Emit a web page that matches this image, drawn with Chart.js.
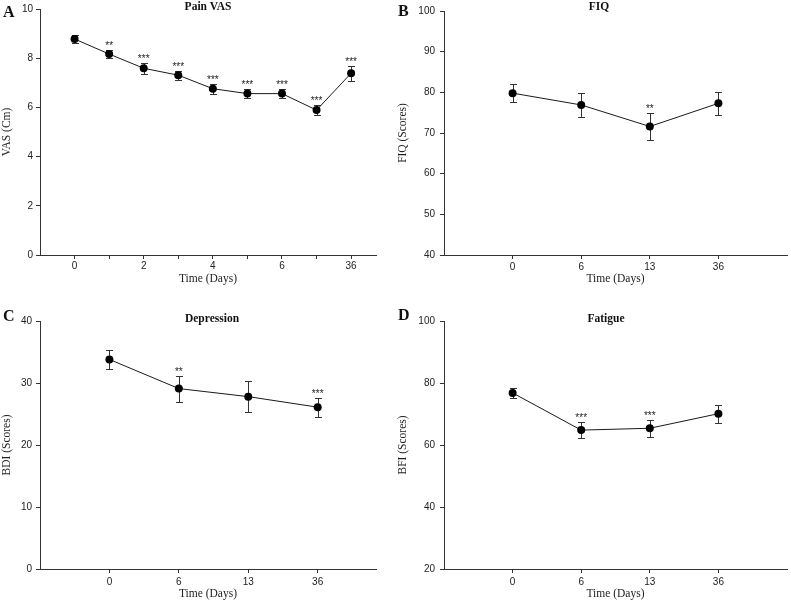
<!DOCTYPE html>
<html><head><meta charset="utf-8">
<script src="https://cdn.jsdelivr.net/npm/chart.js@4/dist/chart.umd.min.js"></script>
<style>
html,body{margin:0;padding:0;background:#fff;}
.wrap{position:relative;width:791px;height:601px;overflow:hidden;}
canvas{position:absolute;left:0;top:0;}
</style>
</head><body><div class="wrap">
<canvas id="cA" width="791" height="601" style="width:791px;height:601px"></canvas>
<canvas id="cB" width="791" height="601" style="width:791px;height:601px"></canvas>
<canvas id="cC" width="791" height="601" style="width:791px;height:601px"></canvas>
<canvas id="cD" width="791" height="601" style="width:791px;height:601px"></canvas>
</div>
<script>
// ---- Data ----
const vasDays = ['0','1','2','3','4','5','6','7','36'];
const vasTickLabels = ['0','','2','','4','','6','','36'];
const vasMean = [8.78, 8.17, 7.59, 7.31, 6.76, 6.56, 6.56, 5.89, 7.39];
const vasErr  = [0.18, 0.18, 0.22, 0.18, 0.20, 0.18, 0.18, 0.20, 0.30];
const vasSig  = ['', '**', '***', '***', '***', '***', '***', '***', '***'];

const scoreDays = ['0','6','13','36'];
const fiqMean = [79.8, 76.9, 71.6, 77.3];
const fiqErr  = [2.2, 2.85, 3.2, 2.8];
const fiqSig  = ['', '', '**', ''];

const bdiMean = [33.8, 29.1, 27.8, 26.1];
const bdiErr  = [1.5, 2.1, 2.5, 1.55];
const bdiSig  = ['', '**', '', '***'];

const bfiMean = [76.8, 64.8, 65.4, 70.1];
const bfiErr  = [1.7, 2.65, 2.7, 2.85];
const bfiSig  = ['', '***', '***', ''];

// ---- Drawing ----
const AX = '#333';
const TXT = '#222';
const tickFont = {family:'"Liberation Sans", Arial, sans-serif', size:10};
const titleFont = {family:'"Liberation Serif", "Times New Roman", serif', size:11.5};

function makePanel(id, cfg) {
  const deco = {
    id: 'deco_' + id,
    beforeDatasetsDraw(chart) {
      const ctx = chart.ctx, ds = chart.data.datasets[0];
      const xs = chart.scales.x, ys = chart.scales.y;
      ctx.save();
      ctx.strokeStyle = AX; ctx.lineWidth = 1;
      ds.data.forEach((p, i) => {
        const e = ds.errors[i];
        const x = Math.round(xs.getPixelForValue(p.x)) + 0.5;
        const yt = Math.round(ys.getPixelForValue(p.y + e)) + 0.5;
        const yb = Math.round(ys.getPixelForValue(p.y - e)) + 0.5;
        ctx.beginPath();
        ctx.moveTo(x, yt); ctx.lineTo(x, yb);
        ctx.moveTo(x - 3.5, yt); ctx.lineTo(x + 3.5, yt);
        ctx.moveTo(x - 3.5, yb); ctx.lineTo(x + 3.5, yb);
        ctx.stroke();
      });
      ctx.restore();
    },
    afterDatasetsDraw(chart) {
      const ctx = chart.ctx, ds = chart.data.datasets[0];
      const xs = chart.scales.x, ys = chart.scales.y;
      ctx.save();
      ctx.fillStyle = TXT;
      ctx.font = '10px "Liberation Sans", Arial, sans-serif';
      ctx.textAlign = 'center'; ctx.textBaseline = 'alphabetic';
      ds.data.forEach((p, i) => {
        const s = ds.sig[i];
        if (!s) return;
        const x = xs.getPixelForValue(p.x);
        const yt = ys.getPixelForValue(p.y + ds.errors[i]);
        ctx.fillText(s, x, yt - 1);
      });
      ctx.restore();
    },
    afterDraw(chart) {
      const ctx = chart.ctx;
      ctx.save();
      ctx.fillStyle = '#111';
      ctx.textBaseline = 'alphabetic';
      ctx.textAlign = 'left';
      ctx.font = 'bold 16px "Liberation Serif", "Times New Roman", serif';
      ctx.fillText(cfg.letter, cfg.letterX, cfg.letterY);
      ctx.textAlign = 'center';
      ctx.font = 'bold 11.5px "Liberation Serif", "Times New Roman", serif';
      ctx.fillText(cfg.title, cfg.titleX, cfg.titleY);
      ctx.restore();
    }
  };

  new Chart(document.getElementById(id), {
    type: 'line',
    data: {
      datasets: [{
        data: cfg.mean.map((v, i) => ({x: i, y: v})),
        errors: cfg.err,
        sig: cfg.sig,
        borderColor: '#1a1a1a',
        borderWidth: 1,
        pointRadius: 4,
        pointBackgroundColor: '#000',
        pointBorderWidth: 0,
        tension: 0,
        fill: false
      }]
    },
    options: {
      responsive: false,
      animation: false,
      events: [],
      layout: {padding: {left: cfg.padL, right: 791 - cfg.right, top: cfg.top, bottom: cfg.padB}},
      plugins: {legend: {display: false}, tooltip: {enabled: false}, title: {display: false}},
      scales: {
        x: {
          type: 'linear', min: -1, max: cfg.xmax,
          afterBuildTicks: s => { s.ticks = cfg.tickLabels.map((_, i) => ({value: i})); },
          afterFit: s => { s.height = cfg.xh; },
          ticks: {callback: v => (cfg.tickLabels[v] !== undefined ? cfg.tickLabels[v] : ''), autoSkip: false, maxRotation: 0, padding: cfg.xpad, font: tickFont, color: TXT},
          grid: {display: true, drawOnChartArea: false, drawTicks: true, tickLength: 4, color: AX},
          border: {display: true, color: AX, width: 1},
          title: {display: true, text: 'Time (Days)', font: titleFont, color: TXT, padding: 0}
        },
        y: {
          min: cfg.ymin, max: cfg.ymax,
          afterFit: s => { s.width = cfg.yw; },
          ticks: {stepSize: cfg.step, padding: cfg.ypad, font: tickFont, color: TXT},
          grid: {display: true, drawOnChartArea: false, drawTicks: true, tickLength: 4, color: AX},
          border: {display: true, color: AX, width: 1},
          title: {display: true, text: cfg.ytitle, font: titleFont, color: TXT, padding: 0}
        }
      }
    },
    plugins: [deco]
  });
}

makePanel('cA', {
  mean: vasMean, err: vasErr, sig: vasSig, tickLabels: vasTickLabels,
  letter: 'A', letterX: 3, letterY: 17, title: 'Pain VAS', titleX: 208, titleY: 10,
  padL: 0, yw: 40, right: 376, top: 7, padB: 315, xh: 31, xmax: 8.72, xpad: 1, ypad: 3,
  ymin: 0, ymax: 10, step: 2, ytitle: 'VAS (Cm)'
});
makePanel('cB', {
  mean: fiqMean, err: fiqErr, sig: fiqSig, tickLabels: scoreDays,
  letter: 'B', letterX: 398, letterY: 16, title: 'FIQ', titleX: 599, titleY: 10,
  padL: 396, yw: 48, right: 790, top: 7, padB: 315, xh: 31, xmax: 4, xpad: 2, ypad: 5,
  ymin: 40, ymax: 100, step: 10, ytitle: 'FIQ (Scores)'
});
makePanel('cC', {
  mean: bdiMean, err: bdiErr, sig: bdiSig, tickLabels: scoreDays,
  letter: 'C', letterX: 3, letterY: 320.5, title: 'Depression', titleX: 212, titleY: 322,
  padL: 0, yw: 40, right: 376, top: 321, padB: 0, xh: 32, xmax: 3.84, xpad: 3, ypad: 4,
  ymin: 0, ymax: 40, step: 10, ytitle: 'BDI (Scores)'
});
makePanel('cD', {
  mean: bfiMean, err: bfiErr, sig: bfiSig, tickLabels: scoreDays,
  letter: 'D', letterX: 398, letterY: 320, title: 'Fatigue', titleX: 606, titleY: 322,
  padL: 396, yw: 48, right: 790, top: 321, padB: 0, xh: 32, xmax: 4, xpad: 3, ypad: 5,
  ymin: 20, ymax: 100, step: 20, ytitle: 'BFI (Scores)'
});
</script>
</body></html>
